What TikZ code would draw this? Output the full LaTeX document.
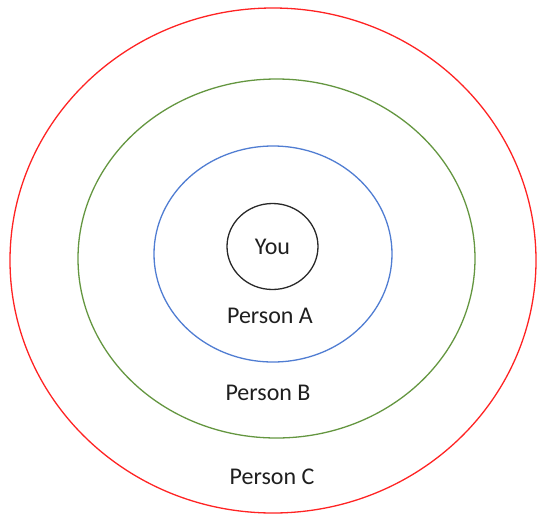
\documentclass[tikz,border=0pt]{standalone}
\usepackage{fontspec}
\setmainfont{Carlito}
\usetikzlibrary{shapes.geometric}
\definecolor{ringred}{RGB}{255,35,35}
\definecolor{ringgreen}{RGB}{100,150,64}
\definecolor{ringblue}{RGB}{80,125,210}
\definecolor{ringdark}{RGB}{40,40,40}
\begin{document}
\begin{tikzpicture}[
  x=1pt, y=-1pt,
  ring/.style={ellipse, inner sep=0pt, line width=1.3pt},
  lbl/.style={font=\fontsize{24}{28}\selectfont, text=black!88}
]
\useasboundingbox (0,0) rectangle (539,515);
\node[ring, draw=ringred, minimum width=526pt, minimum height=505pt]   (circC) at (273,260.5) {};
\node[ring, draw=ringgreen, minimum width=397pt, minimum height=359pt] (circB) at (276.5,258.5) {};
\node[ring, draw=ringblue, minimum width=238pt, minimum height=216pt]  (circA) at (273,254) {};
\node[ring, draw=ringdark, minimum width=91pt, minimum height=86pt, lbl] (you) at (272.5,246.5) {You};
\node[lbl] (persA) at (270,316) {Person A};
\node[lbl] (persB) at (268,393) {Person B};
\node[lbl] (persC) at (272,477) {Person C};
\end{tikzpicture}
\end{document}
